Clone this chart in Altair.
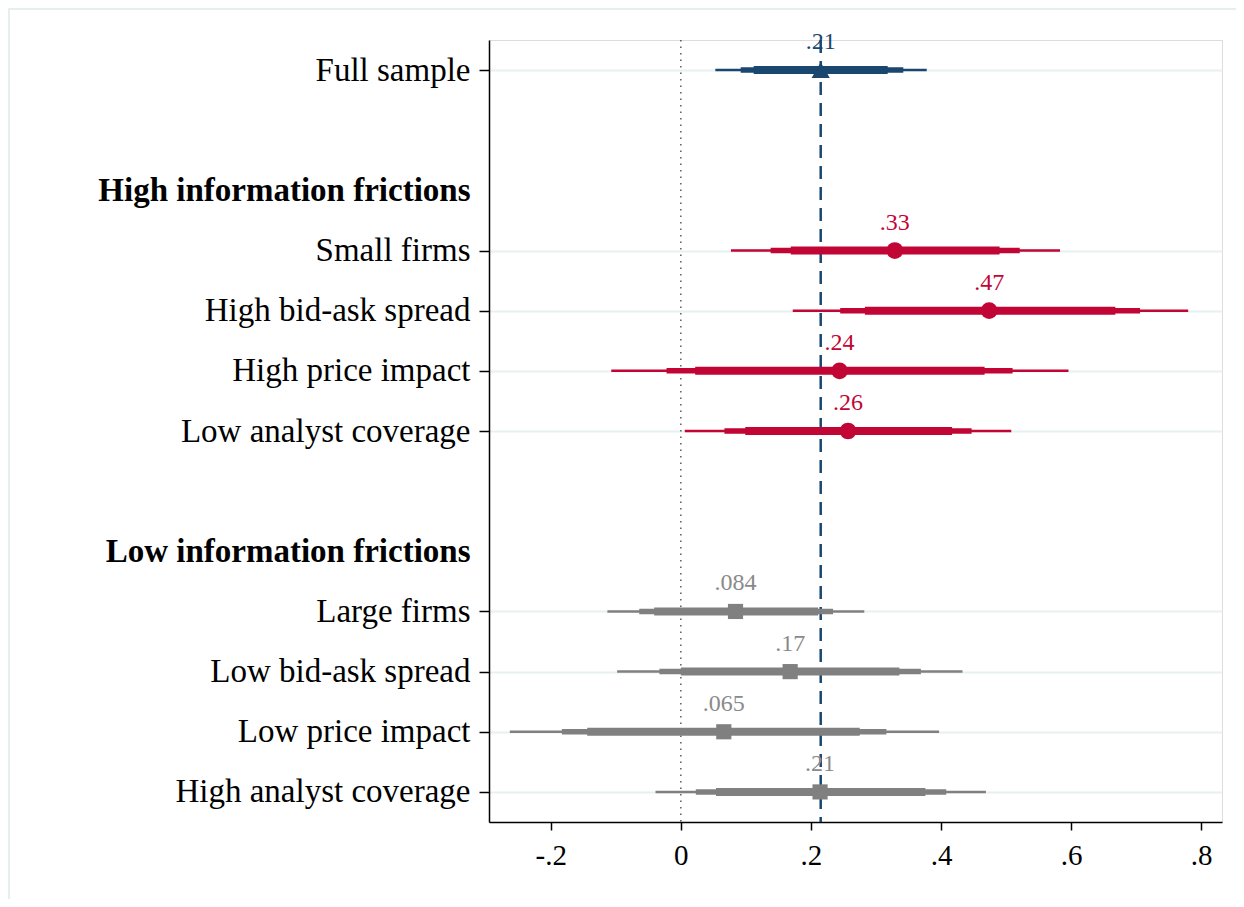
import altair as alt
import pandas as pd

# ---- data ----
row_labels = ["Full sample", "", "High information frictions", "Small firms",
              "High bid-ask spread", "High price impact", "Low analyst coverage", "",
              "Low information frictions", "Large firms", "Low bid-ask spread",
              "Low price impact", "High analyst coverage"]
header_rows = [2, 8]

labels = ["Full sample", "Small firms", "High bid-ask spread", "High price impact",
          "Low analyst coverage", "Large firms", "Low bid-ask spread",
          "Low price impact", "High analyst coverage"]
row_pos = [0, 3, 4, 5, 6, 9, 10, 11, 12]
groups = ["Full", "High", "High", "High", "High", "Low", "Low", "Low", "Low"]
coef = [0.215, 0.329, 0.474, 0.244, 0.257, 0.084, 0.168, 0.066, 0.214]
lo99 = [0.053, 0.077, 0.172, -0.107, 0.006, -0.113, -0.098, -0.263, -0.039]
hi99 = [0.378, 0.583, 0.780, 0.596, 0.508, 0.282, 0.433, 0.397, 0.469]
lo95 = [0.092, 0.138, 0.245, -0.022, 0.067, -0.064, -0.033, -0.183, 0.023]
hi95 = [0.342, 0.521, 0.706, 0.510, 0.447, 0.234, 0.369, 0.316, 0.408]
lo90 = [0.112, 0.169, 0.283, 0.022, 0.099, -0.041, 0.000, -0.144, 0.054]
hi90 = [0.318, 0.490, 0.668, 0.467, 0.417, 0.211, 0.336, 0.275, 0.376]
coef_text = [".21", ".33", ".47", ".24", ".26", ".084", ".17", ".065", ".21"]

x_ticks = [-0.2, 0, 0.2, 0.4, 0.6, 0.8]
x_tick_labels = ["-.2", "0", ".2", ".4", ".6", ".8"]

group_domain = ["Full", "High", "Low"]
group_colors = ["#1a476f", "#c10534", "#808080"]
text_colors = ["#1a476f", "#c10534", "#8a8a8a"]
group_shapes = ["triangle-up", "circle", "square"]
group_sizes = [330, 230, 300]

ref_line = [0.215]
zero_line = [0]

df = pd.DataFrame({
    "label": labels, "row": row_pos, "group": groups, "coef": coef,
    "lo99": lo99, "hi99": hi99, "lo95": lo95, "hi95": hi95,
    "lo90": lo90, "hi90": hi90, "txt": coef_text,
})

FONT = "Liberation Serif"

ylab_expr = "[" + ",".join("'" + s + "'" for s in row_labels) + "][datum.value]"
xlab_expr = "[" + ",".join("'" + s + "'" for s in x_tick_labels) + "][round(datum.value*5)+1]"
hdr_test = " || ".join(f"datum.value == {h}" for h in header_rows)
hide_test = hdr_test + " || datum.value == 1 || datum.value == 7"

x_scale = alt.Scale(domain=[-0.295, 0.832], nice=False, zero=False)
y_scale = alt.Scale(domain=[-0.5, 12.5], reverse=True, nice=False, zero=False)
color_scale = alt.Scale(domain=group_domain, range=group_colors)
text_scale = alt.Scale(domain=group_domain, range=text_colors)

x_axis = alt.Axis(values=x_ticks, labelExpr=xlab_expr, title=None, grid=False,
                  tickSize=8, tickWidth=1.5, tickColor="black",
                  domainColor="black", domainWidth=1.5,
                  labelFont=FONT, labelFontSize=29, labelColor="black",
                  labelPadding=11)
y_axis = alt.Axis(values=list(range(len(row_labels))), labelExpr=ylab_expr, title=None,
                  grid=True, gridColor="#e8f0f1", gridWidth=2,
                  gridOpacity={"condition": {"test": hide_test, "value": 0}, "value": 1},
                  tickOpacity={"condition": {"test": hide_test, "value": 0}, "value": 1},
                  labelFontWeight={"condition": {"test": hdr_test, "value": "bold"}, "value": "normal"},
                  tickSize=10, tickWidth=1.5, tickColor="black",
                  domainColor="black", domainWidth=1.5,
                  labelFont=FONT, labelFontSize=33, labelColor="black",
                  labelPadding=9, labelLimit=500)

base = alt.Chart(df)

axes_layer = base.mark_point(opacity=0).encode(
    x=alt.X("coef:Q", scale=x_scale, axis=x_axis),
    y=alt.Y("row:Q", scale=y_scale, axis=y_axis),
)

zero = alt.Chart(pd.DataFrame({"v": zero_line})).mark_rule(
    color="#333333", strokeWidth=1.2, strokeDash=[1.5, 5]
).encode(x=alt.X("v:Q", scale=x_scale))

ref = alt.Chart(pd.DataFrame({"v": ref_line})).mark_rule(
    color="#1a476f", strokeWidth=2.5, strokeDash=[13, 8]
).encode(x=alt.X("v:Q", scale=x_scale))

def ci(lo, hi, w):
    return base.mark_rule(strokeWidth=w).encode(
        x=alt.X(f"{lo}:Q", scale=x_scale),
        x2=f"{hi}:Q",
        y=alt.Y("row:Q", scale=y_scale),
        color=alt.Color("group:N", scale=color_scale, legend=None),
    )

points = base.mark_point(filled=True, opacity=1).encode(
    x=alt.X("coef:Q", scale=x_scale),
    y=alt.Y("row:Q", scale=y_scale),
    color=alt.Color("group:N", scale=color_scale, legend=None),
    shape=alt.Shape("group:N", scale=alt.Scale(domain=group_domain, range=group_shapes), legend=None),
    size=alt.Size("group:N", scale=alt.Scale(domain=group_domain, range=group_sizes), legend=None),
)

texts = base.mark_text(font=FONT, fontSize=24, dy=-28, baseline="middle", align="center").encode(
    x=alt.X("coef:Q", scale=x_scale),
    y=alt.Y("row:Q", scale=y_scale),
    text="txt:N",
    color=alt.Color("group:N", scale=text_scale, legend=None),
)

frame_top = alt.Chart(pd.DataFrame({"v": [0]})).mark_rule(color="#e6eef0", strokeWidth=2).encode(
    x=alt.value(-481), x2=alt.value(760), y=alt.value(-31))
frame_left = alt.Chart(pd.DataFrame({"v": [0]})).mark_rule(color="#e6eef0", strokeWidth=2).encode(
    x=alt.value(-480), y=alt.value(-31), y2=alt.value(880))

chart = alt.layer(
    frame_top, frame_left, axes_layer, zero, ref,
    ci("lo99", "hi99", 2.5), ci("lo95", "hi95", 5.5), ci("lo90", "hi90", 8),
    points, texts,
).resolve_scale(color="independent").properties(
    width=733, height=782,
    autosize=alt.AutoSizeParams(type="none"),
    padding={"left": 481, "top": 32, "right": 14, "bottom": 77},
).configure_view(stroke=None).configure(background="white")

chart.save("out.html", embed_options={"renderer": "svg", "actions": False})
